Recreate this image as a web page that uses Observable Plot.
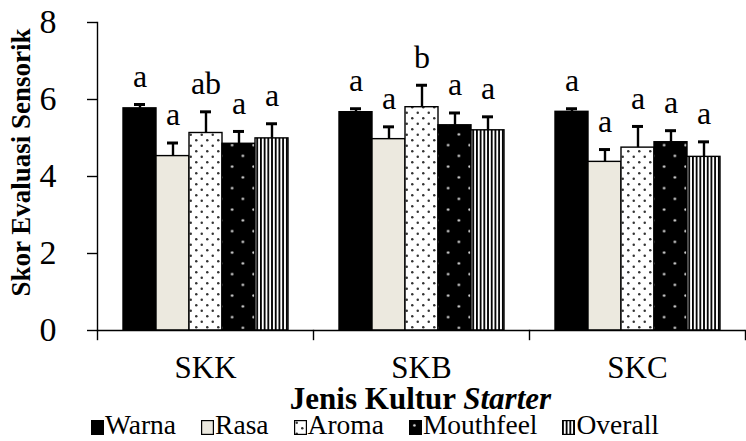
<!DOCTYPE html>
<html><head><meta charset="utf-8">
<script src="https://cdn.jsdelivr.net/npm/d3@7"></script>
<script src="https://cdn.jsdelivr.net/npm/@observablehq/plot@0.6"></script>
<style>
html,body{margin:0;padding:0;background:#fff;}
body{width:746px;height:441px;overflow:hidden;position:relative;font-family:"Liberation Serif","DejaVu Serif",serif;color:#000;}
#xtitle{position:absolute;left:96px;width:649px;top:386px;text-align:center;font-weight:bold;font-size:31px;line-height:25px;white-space:nowrap;}
#legend{position:absolute;left:91px;top:412px;font-size:27.5px;line-height:26px;white-space:nowrap;}
.item{display:inline-block;margin-right:25px;}
.item svg{vertical-align:-1px;margin-right:1px;}
</style></head>
<body>
<svg width="0" height="0" style="position:absolute">
<defs>
<pattern id="pAroma" patternUnits="userSpaceOnUse" width="11" height="11">
 <rect width="11" height="11" fill="#fff"/>
 <circle cx="2.75" cy="2.75" r="1.25" fill="#333"/>
 <circle cx="8.25" cy="8.25" r="1.25" fill="#333"/>
</pattern>
<pattern id="pMouth" patternUnits="userSpaceOnUse" width="21.5" height="21.5">
 <rect width="21.5" height="21.5" fill="#000"/>
 <circle cx="5.4" cy="5.4" r="1.3" fill="#ddd"/>
 <circle cx="16.1" cy="16.1" r="1.3" fill="#ddd"/>
</pattern>
<pattern id="pOverall" patternUnits="userSpaceOnUse" width="3.7" height="10">
 <rect width="3.7" height="10" fill="#fff"/>
 <rect width="1.8" height="10" fill="#000"/>
</pattern>
</defs></svg>
<div id="chart"></div>
<div id="xtitle">Jenis Kultur <i>Starter</i></div>
<div id="legend"></div>
<script>
// ---- data ----
const groups = ["SKK", "SKB", "SKC"];
const attributes = ["Warna", "Rasa", "Aroma", "Mouthfeel", "Overall"];
const skkMean = [5.77, 4.53, 5.13, 4.85, 4.99];
const skbMean = [5.67, 4.97, 5.80, 5.33, 5.20];
const skcMean = [5.68, 4.38, 4.75, 4.89, 4.51];
const skkErr = [0.10, 0.34, 0.55, 0.32, 0.38];
const skbErr = [0.09, 0.32, 0.57, 0.32, 0.35];
const skcErr = [0.08, 0.32, 0.55, 0.30, 0.39];
const skkLetter = ["a", "a", "ab", "a", "a"];
const skbLetter = ["a", "a", "b", "a", "a"];
const skcLetter = ["a", "a", "a", "a", "a"];
const yTicks = [0, 2, 4, 6, 8];
const yTitle = "Skor Evaluasi Sensorik";

// ---- styles ----
const fills = ["#000", "#ECE9DF", "url(#pAroma)", "url(#pMouth)", "url(#pOverall)"];

const means = [skkMean, skbMean, skcMean];
const errs = [skkErr, skbErr, skcErr];
const letters = [skkLetter, skbLetter, skcLetter];
const data = groups.flatMap((g, gi) => attributes.map((a, ai) => ({
  group: g, attr: a, mean: means[gi][ai], err: errs[gi][ai], letter: letters[gi][ai]
})));

const W = 746, H = 386, mt = 22, mb = 56, ml = 96, mr = 1;
const frameH = H - mt - mb;
const font = "'Liberation Serif','DejaVu Serif',serif";

const chart = Plot.plot({
  width: W, height: H, marginTop: mt, marginBottom: mb, marginLeft: ml, marginRight: mr,
  style: {fontFamily: font, fontSize: "30px", color: "#000", background: "#fff", overflow: "visible"},
  fx: {domain: groups, padding: 0, label: null},
  x: {domain: attributes, paddingInner: 0, paddingOuter: 0.76, axis: null},
  y: {domain: [0, 8], label: null},
  color: {type: "ordinal", domain: attributes, range: fills},
  marks: [
    Plot.barY(data, {fx: "group", x: "attr", y: "mean", fill: "attr", stroke: "#000", strokeWidth: 1.4}),
    Plot.ruleX(data, {fx: "group", x: "attr", y1: "mean", y2: d => d.mean + d.err, stroke: "#000", strokeWidth: 2.4}),
    Plot.tickY(data, {fx: "group", x: "attr", y: d => d.mean + d.err, stroke: "#000", strokeWidth: 3, insetLeft: 11, insetRight: 11}),
    Plot.text(data, {fx: "group", x: "attr", y: d => d.mean + d.err, text: "letter", dy: -28, fontSize: 32, fill: "#000"}),
    Plot.ruleY([0], {stroke: "#000", strokeWidth: 1.4}),
    Plot.frame({anchor: "left", facetAnchor: "left", stroke: "#000", strokeWidth: 1.4}),
    Plot.frame({anchor: "left", insetTop: frameH, insetBottom: -9, stroke: "#000", strokeWidth: 1.4}),
    Plot.frame({anchor: "right", facetAnchor: "right", insetTop: frameH, insetBottom: -9, stroke: "#000", strokeWidth: 1.4}),
    Plot.axisY({ticks: yTicks, tickSize: 10, tickPadding: 31, fontSize: 34, label: null, strokeWidth: 1.4}),
    Plot.axisFx({anchor: "bottom", tickSize: 0, tickPadding: 25, fontSize: 31, label: null}),
    Plot.text([yTitle], {frameAnchor: "left", facetAnchor: "left", textAnchor: "middle", rotate: -90, dx: -76, dy: -14, fontSize: 27, fontWeight: "bold", fill: "#000"})
  ]
});
document.getElementById("chart").appendChild(chart);

// ---- legend ----
const legend = document.getElementById("legend");
attributes.forEach((a, i) => {
  const span = document.createElement("span");
  span.className = "item";
  span.innerHTML = `<svg width="13" height="15"><rect x="0.6" y="0.6" width="11.8" height="13.8" fill="${fills[i]}" stroke="#000" stroke-width="1.2"/></svg>${a}`;
  legend.appendChild(span);
});
</script>
</body></html>
